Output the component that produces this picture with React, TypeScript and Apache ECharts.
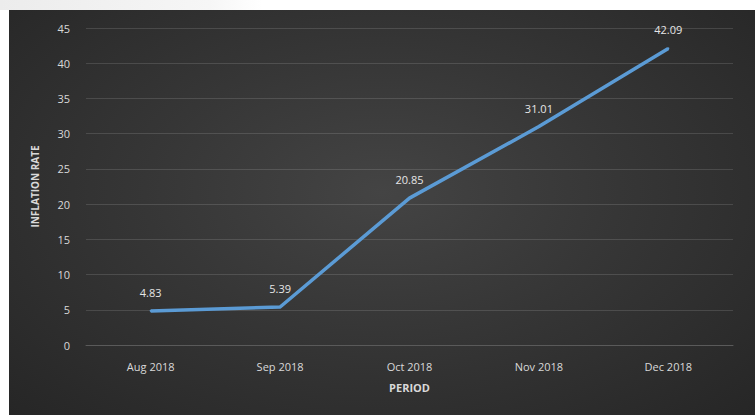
import React, { useEffect, useRef } from "react";
import * as echarts from "echarts";

const categories = ["Aug 2018", "Sep 2018", "Oct 2018", "Nov 2018", "Dec 2018"];
const inflation = [4.83, 5.39, 20.85, 31.01, 42.09];
const yTicks = { min: 0, max: 45, interval: 5 };

export default function App() {
  const ref = useRef<HTMLDivElement>(null);
  useEffect(() => {
    if (!ref.current) return;
    const chart = echarts.init(ref.current, null, { renderer: "svg" });
    const font = "'Open Sans', 'Liberation Sans', sans-serif";
    chart.setOption({
      animation: false,
      backgroundColor: "transparent",
      grid: { left: 77, right: 22, top: 18, bottom: 70 },
      xAxis: {
        type: "category",
        data: categories,
        boundaryGap: true,
        name: "PERIOD",
        nameLocation: "middle",
        nameGap: 37,
        nameTextStyle: { color: "#d9d9d9", fontSize: 11, fontWeight: "bold", fontFamily: font },
        axisLine: { show: true, lineStyle: { color: "#5a5a5a" } },
        axisTick: { show: false },
        axisLabel: { color: "#d9d9d9", fontSize: 11, fontFamily: font, margin: 16 },
      },
      yAxis: {
        type: "value",
        min: yTicks.min,
        max: yTicks.max,
        interval: yTicks.interval,
        name: "INFLATION RATE",
        nameLocation: "middle",
        nameGap: 46,
        nameRotate: 90,
        nameTextStyle: { color: "#d9d9d9", fontSize: 10, fontWeight: "bold", fontFamily: font },
        axisLine: { show: false },
        axisTick: { show: false },
        axisLabel: { color: "#d9d9d9", fontSize: 11, fontFamily: font, margin: 16 },
        splitLine: { lineStyle: { color: "rgba(255,255,255,0.13)", width: 1 } },
      },
      series: [
        {
          type: "line",
          data: inflation,
          symbol: "circle",
          symbolSize: 2,
          showSymbol: true,
          itemStyle: { color: "#5b9bd5" },
          lineStyle: { color: "#5b9bd5", width: 3.5 },
          label: {
            show: true,
            position: "top",
            distance: 12,
            color: "#e6e6e6",
            fontSize: 11,
            fontFamily: font,
            formatter: (p: any) => p.value.toFixed(2),
          },
        },
      ],
    });
    return () => chart.dispose();
  }, []);
  return (
    <>
      <div
        style={{
          position: "absolute",
          left: 0,
          top: 0,
          width: 262,
          height: 10,
          background: "linear-gradient(to right, #ececec, #f6f6f6 80%, #ffffff)",
        }}
      />
      <div
        style={{
          position: "absolute",
          left: 9,
          top: 10,
          width: 746,
          height: 405,
          background: "radial-gradient(ellipse at 50% 45%, #444444 0%, #363636 45%, #262626 100%)",
        }}
      >
        <div ref={ref} style={{ width: 746, height: 405 }} />
      </div>
    </>
  );
}
